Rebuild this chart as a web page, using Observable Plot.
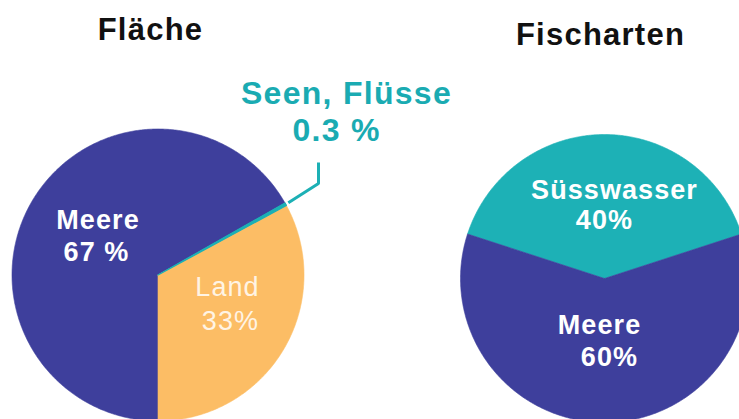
<!DOCTYPE html>
<html>
<head>
<meta charset="utf-8">
<script src="https://cdn.jsdelivr.net/npm/d3@7"></script>
<script src="https://cdn.jsdelivr.net/npm/@observablehq/plot@0.6"></script>
<style>
  html, body { margin: 0; padding: 0; background: #ffffff; }
</style>
</head>
<body>
<div id="chart"></div>
<script>
// ---- Data ----
const titles = ["Fläche", "Fischarten"];
const areaCategories = ["Meere", "Seen, Flüsse", "Land"];
const areaValues = [67, 0.3, 33];
const areaValueLabels = ["67 %", "0.3 %", "33%"];
const fishCategories = ["Süsswasser", "Meere"];
const fishValues = [40, 60];
const fishValueLabels = ["40%", "60%"];

// ---- Styles ----
const colors = {"Meere": "#3e3f9c", "Land": "#fcbd65", "Seen, Flüsse": "#1cb0b5", "Süsswasser": "#1db1b6"};
const W = 739, H = 419;
const FONT = "'Liberation Sans', Arial, Helvetica, sans-serif";

// layout of the two pies (pixel space of the frame)
const pies = [
  {name: titles[0], cats: areaCategories, vals: areaValues, cx: 157.5, cy: 274.5, r: 146, start: Math.PI},
  {name: titles[1], cats: fishCategories, vals: fishValues, cx: 604, cy: 278, r: 144, start: -0.4 * Math.PI}
];

// Build slice polygons from the values
const slices = [];
for (const p of pies) {
  const arcs = d3.pie().sort(null).startAngle(p.start).endAngle(p.start + 2 * Math.PI)(p.vals);
  arcs.forEach((a, i) => {
    const pts = [{x: p.cx, y: p.cy}];
    const n = Math.max(2, Math.ceil((a.endAngle - a.startAngle) / (Math.PI / 360)));
    for (let k = 0; k <= n; k++) {
      const t = a.startAngle + (a.endAngle - a.startAngle) * k / n;
      pts.push({x: p.cx + p.r * Math.sin(t), y: p.cy - p.r * Math.cos(t)});
    }
    pts.push({x: p.cx, y: p.cy});
    slices.push({pie: p.name, cat: p.cats[i], mid: (a.startAngle + a.endAngle) / 2, pts, cx: p.cx, cy: p.cy, r: p.r});
  });
}

// leader line for the tiny "Seen, Flüsse" slice
const seen = slices.find(s => s.pie === titles[0] && s.cat === "Seen, Flüsse");
const leader = [
  {x: seen.cx + (seen.r + 3) * Math.sin(seen.mid), y: seen.cy - (seen.r + 3) * Math.cos(seen.mid)},
  {x: 318, y: 183},
  {x: 318, y: 162}
];

// text lines: [text, x(center), y(baseline), style]
const textLines = [
  {t: titles[0], x: 150, y: 39, kind: "title"},
  {t: titles[1], x: 600, y: 44, kind: "title"},
  {t: areaCategories[1], x: 346, y: 103, kind: "callout"},
  {t: areaValueLabels[1], x: 336, y: 140, kind: "callout"},
  {t: areaCategories[0], x: 97.5, y: 228, kind: "inner"},
  {t: areaValueLabels[0], x: 96, y: 260, kind: "inner"},
  {t: areaCategories[2], x: 227, y: 295, kind: "land"},
  {t: areaValueLabels[2], x: 230, y: 329, kind: "land"},
  {t: fishCategories[0], x: 614, y: 198, kind: "inner"},
  {t: fishValueLabels[0], x: 604, y: 228, kind: "inner"},
  {t: fishCategories[1], x: 599, y: 333, kind: "inner"},
  {t: fishValueLabels[1], x: 609, y: 365, kind: "inner"}
];
const textStyles = {
  title: {fill: "#111111", fontSize: 31, fontWeight: "bold"},
  callout: {fill: "#1aabb2", fontSize: 32, fontWeight: "bold"},
  inner: {fill: "#ffffff", fontSize: 27, fontWeight: "bold"},
  land: {fill: "#fff4e4", fontSize: 27, fontWeight: "normal"}
};

const marks = [];
for (const s of slices) {
  marks.push(Plot.line(s.pts, {x: "x", y: "y", fill: colors[s.cat], stroke: colors[s.cat], strokeWidth: 0.6, curve: "linear"}));
}
// redraw the thin slice on top so it stays visible
marks.push(Plot.line(seen.pts, {x: "x", y: "y", fill: colors["Seen, Flüsse"], stroke: colors["Seen, Flüsse"], strokeWidth: 1.2}));
marks.push(Plot.line(leader, {x: "x", y: "y", stroke: colors["Seen, Flüsse"], strokeWidth: 3, strokeLinejoin: "miter", strokeLinecap: "butt"}));
for (const kind of Object.keys(textStyles)) {
  const st = textStyles[kind];
  marks.push(Plot.text(textLines.filter(d => d.kind === kind), {
    x: "x", y: "y", text: "t", textAnchor: "middle", lineAnchor: "bottom",
    fontFamily: FONT, fill: st.fill, fontSize: st.fontSize, fontWeight: st.fontWeight
  }));
}

const chart = Plot.plot({
  width: W,
  height: H,
  margin: 0,
  x: {domain: [0, W], range: [0, W], axis: null},
  y: {domain: [0, H], range: [0, H], axis: null},
  style: {background: "#ffffff", overflow: "hidden"},
  marks
});
d3.select(chart).selectAll("g[font-size]").attr("letter-spacing", function() {
  return (parseFloat(this.getAttribute("font-size")) * 0.04).toFixed(2) + "px";
});
document.getElementById("chart").append(chart);
</script>
</body>
</html>
